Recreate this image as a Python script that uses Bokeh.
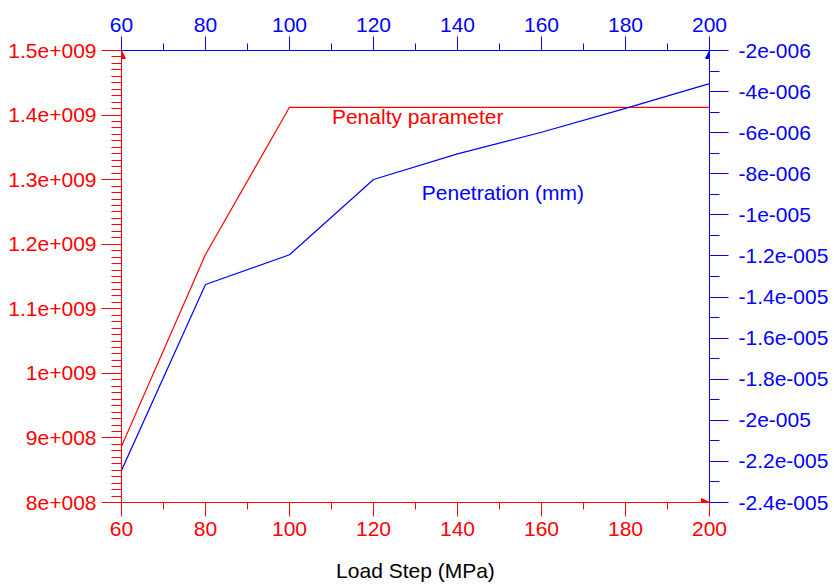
from bokeh.plotting import figure
from bokeh.models import Range1d, LinearAxis, FixedTicker, Label, Arrow, NormalHead
from bokeh.embed import file_html
from bokeh.resources import INLINE

# ---- data ----
load_step = [60, 80, 100, 120, 140, 160, 180, 200]
penalty = [8.87e8, 1.184e9, 1.412e9, 1.412e9, 1.412e9, 1.412e9, 1.412e9, 1.412e9]
penetration = [-2.244e-5, -1.339e-5, -1.194e-5, -8.28e-6, -7.03e-6, -5.98e-6, -4.82e-6, -3.61e-6]

x_ticks = [60, 80, 100, 120, 140, 160, 180, 200]
x_minor = [70, 90, 110, 130, 150, 170, 190]
x_labels = ["60", "80", "100", "120", "140", "160", "180", "200"]

left_ticks = [8e8, 9e8, 1e9, 1.1e9, 1.2e9, 1.3e9, 1.4e9, 1.5e9]
left_labels = ["8e+008", "9e+008", "1e+009", "1.1e+009", "1.2e+009",
               "1.3e+009", "1.4e+009", "1.5e+009"]
left_minor_step = 1e7

right_ticks = [-2.4e-5, -2.2e-5, -2e-5, -1.8e-5, -1.6e-5, -1.4e-5,
               -1.2e-5, -1e-5, -8e-6, -6e-6, -4e-6, -2e-6]
right_labels = ["-2.4e-005", "-2.2e-005", "-2e-005", "-1.8e-005", "-1.6e-005",
                "-1.4e-005", "-1.2e-005", "-1e-005", "-8e-006", "-6e-006",
                "-4e-006", "-2e-006"]
right_minor_step = 1e-6

x_title = "Load Step (MPa)"
label_penalty = "Penalty parameter"
label_penetration = "Penetration (mm)"
label_penalty_pos = (110.1, 1.3985e9)
label_penetration_pos = (131.5, 1.2801e9)

RED = "#ff0000"
BLUE = "#0000ff"
FONT = "Liberation Sans"
FS = "21px"

left_minor = [left_ticks[0] + i * left_minor_step
              for i in range(int(round((left_ticks[-1] - left_ticks[0]) / left_minor_step)) + 1)]
right_minor = [right_ticks[0] + i * right_minor_step
               for i in range(int(round((right_ticks[-1] - right_ticks[0]) / right_minor_step)) + 1)]

p = figure(width=834, height=585, output_backend="svg", toolbar_location=None,
           x_range=Range1d(x_ticks[0], x_ticks[-1]),
           y_range=Range1d(left_ticks[0], left_ticks[-1]),
           x_axis_type=None, y_axis_type=None)
p.extra_y_ranges = {"pen": Range1d(right_ticks[0], right_ticks[-1])}
p.min_border_left = 121
p.min_border_right = 125
p.min_border_top = 50
p.min_border_bottom = 83
p.outline_line_color = None
p.xgrid.visible = False
p.ygrid.visible = False
p.background_fill_color = "white"
p.border_fill_color = "white"


def style_axis(ax, color, ticks, minor, labels, maj_out, min_out):
    ax.ticker = FixedTicker(ticks=ticks, minor_ticks=minor)
    ax.major_label_overrides = {t: l for t, l in zip(ticks, labels)}
    ax.axis_line_color = color
    ax.major_tick_line_color = color
    ax.minor_tick_line_color = color
    ax.major_tick_in = 0
    ax.minor_tick_in = 0
    ax.major_tick_out = maj_out
    ax.minor_tick_out = min_out
    ax.major_label_text_color = color
    ax.major_label_text_font = FONT
    ax.major_label_text_font_size = FS
    ax.major_label_standoff = 5


bottom = LinearAxis(axis_label=x_title)
style_axis(bottom, RED, x_ticks, x_minor, x_labels, 14, 7)
bottom.axis_label_text_font = FONT
bottom.axis_label_text_font_size = FS
bottom.axis_label_text_font_style = "normal"
bottom.axis_label_text_color = "black"
bottom.axis_label_standoff = 20
p.add_layout(bottom, "below")

top = LinearAxis()
style_axis(top, BLUE, x_ticks, x_minor, x_labels, 14, 7)
p.add_layout(top, "above")

left = LinearAxis()
style_axis(left, RED, left_ticks, left_minor, left_labels, 20, 10)
p.add_layout(left, "left")

right = LinearAxis(y_range_name="pen")
style_axis(right, BLUE, right_ticks, right_minor, right_labels, 19, 10)
right.major_label_standoff = 10
p.add_layout(right, "right")

p.line(load_step, penalty, line_color=RED, line_width=1.2)
p.line(load_step, penetration, line_color=BLUE, line_width=1.2, y_range_name="pen")

# axis-end arrowheads
p.add_layout(Arrow(x_start=x_ticks[0], y_start=left_ticks[-2], x_end=x_ticks[0], y_end=left_ticks[-1],
                   line_color=RED, line_width=1,
                   end=NormalHead(size=8, fill_color=RED, line_color=RED)))
p.add_layout(Arrow(x_start=x_ticks[-2], y_start=left_ticks[0], x_end=x_ticks[-1], y_end=left_ticks[0],
                   line_color=RED, line_width=1,
                   end=NormalHead(size=8, fill_color=RED, line_color=RED)))
p.add_layout(Arrow(x_start=x_ticks[-1], y_start=right_ticks[-2], x_end=x_ticks[-1], y_end=right_ticks[-1],
                   y_range_name="pen", line_color=BLUE, line_width=1,
                   end=NormalHead(size=8, fill_color=BLUE, line_color=BLUE)))

p.add_layout(Label(x=label_penalty_pos[0], y=label_penalty_pos[1], text=label_penalty,
                   text_color=RED, text_font=FONT, text_font_size=FS,
                   text_baseline="alphabetic"))
p.add_layout(Label(x=label_penetration_pos[0], y=label_penetration_pos[1], text=label_penetration,
                   text_color=BLUE, text_font=FONT, text_font_size=FS,
                   text_baseline="alphabetic"))

open("out.html", "w").write(file_html(p, INLINE))
